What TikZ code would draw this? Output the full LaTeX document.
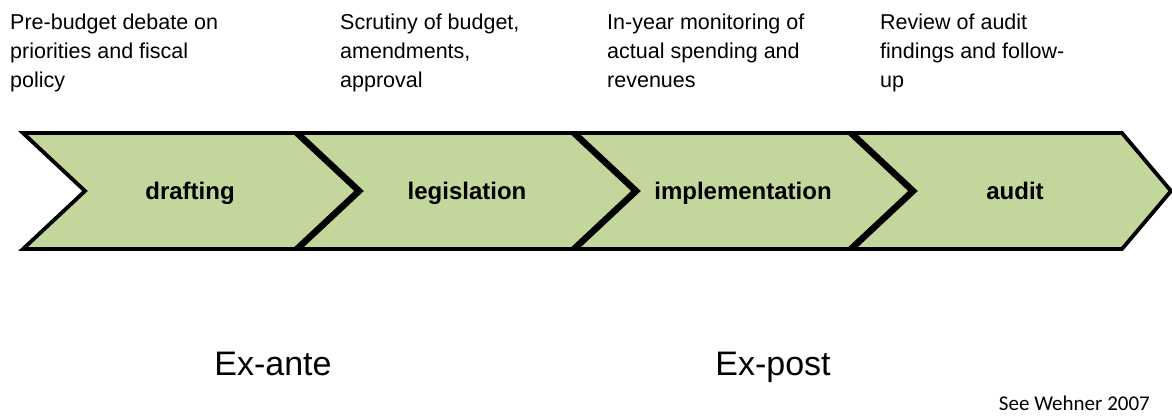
\documentclass[tikz,border=0pt]{standalone}
\usepackage{fontspec}
\setmainfont{Liberation Sans}
\newfontfamily\refont{Carlito}
\usetikzlibrary{positioning}
\definecolor{chevgreen}{RGB}{195,214,155}

\begin{document}
\begin{tikzpicture}[
  x=1pt,y=-1pt,
  every node/.style={inner sep=0pt},
  chevron/.style={draw=black,fill=chevgreen,line width=3.8pt,line join=miter},
  stagelbl/.style={anchor=base,font=\fontsize{24}{28}\selectfont\bfseries},
  stagenote/.style={anchor=north west,align=left,font=\fontsize{21.5}{29}\selectfont},
  phase/.style={anchor=base,font=\fontsize{34}{40}\selectfont}
]
\useasboundingbox (0,0) rectangle (1172,418);

% Notes above the stages
\node[stagenote] (n1) at (10,14) {Pre-budget debate on\\priorities and fiscal\\policy};
\node[stagenote] (n2) at (340,14) {Scrutiny of budget,\\amendments,\\approval};
\node[stagenote] (n3) at (607,14) {In-year monitoring of\\actual spending and\\revenues};
\node[stagenote] (n4) at (880,14) {Review of audit\\findings and follow-\\up};

% Chevrons
\draw[chevron] (23,133) -- (295,133) -- (357,191) -- (295,249) -- (23,249) -- (85,191) -- cycle;
\draw[chevron] (299,133) -- (572,133) -- (634,191) -- (572,249) -- (299,249) -- (361,191) -- cycle;
\draw[chevron] (576,133) -- (849,133) -- (911,191) -- (849,249) -- (576,249) -- (638,191) -- cycle;
\draw[chevron] (853,133) -- (1122,133) -- (1171,191) -- (1122,249) -- (853,249) -- (915,191) -- cycle;

% Stage labels
\node[stagelbl] (drafting) at (190,199) {drafting};
\node[stagelbl] (legislation) at (467,199) {legislation};
\node[stagelbl] (implementation) at (743,199) {implementation};
\node[stagelbl] (audit) at (1015,199) {audit};

% Phases
\node[phase] (exante) at (273,375) {Ex-ante};
\node[phase] (expost) at (773,375) {Ex-post};

% Source
\node[font=\refont\fontsize{21}{24}\selectfont,anchor=base east] (src) at (1150,410) {See Wehner 2007};
\end{tikzpicture}
\end{document}
